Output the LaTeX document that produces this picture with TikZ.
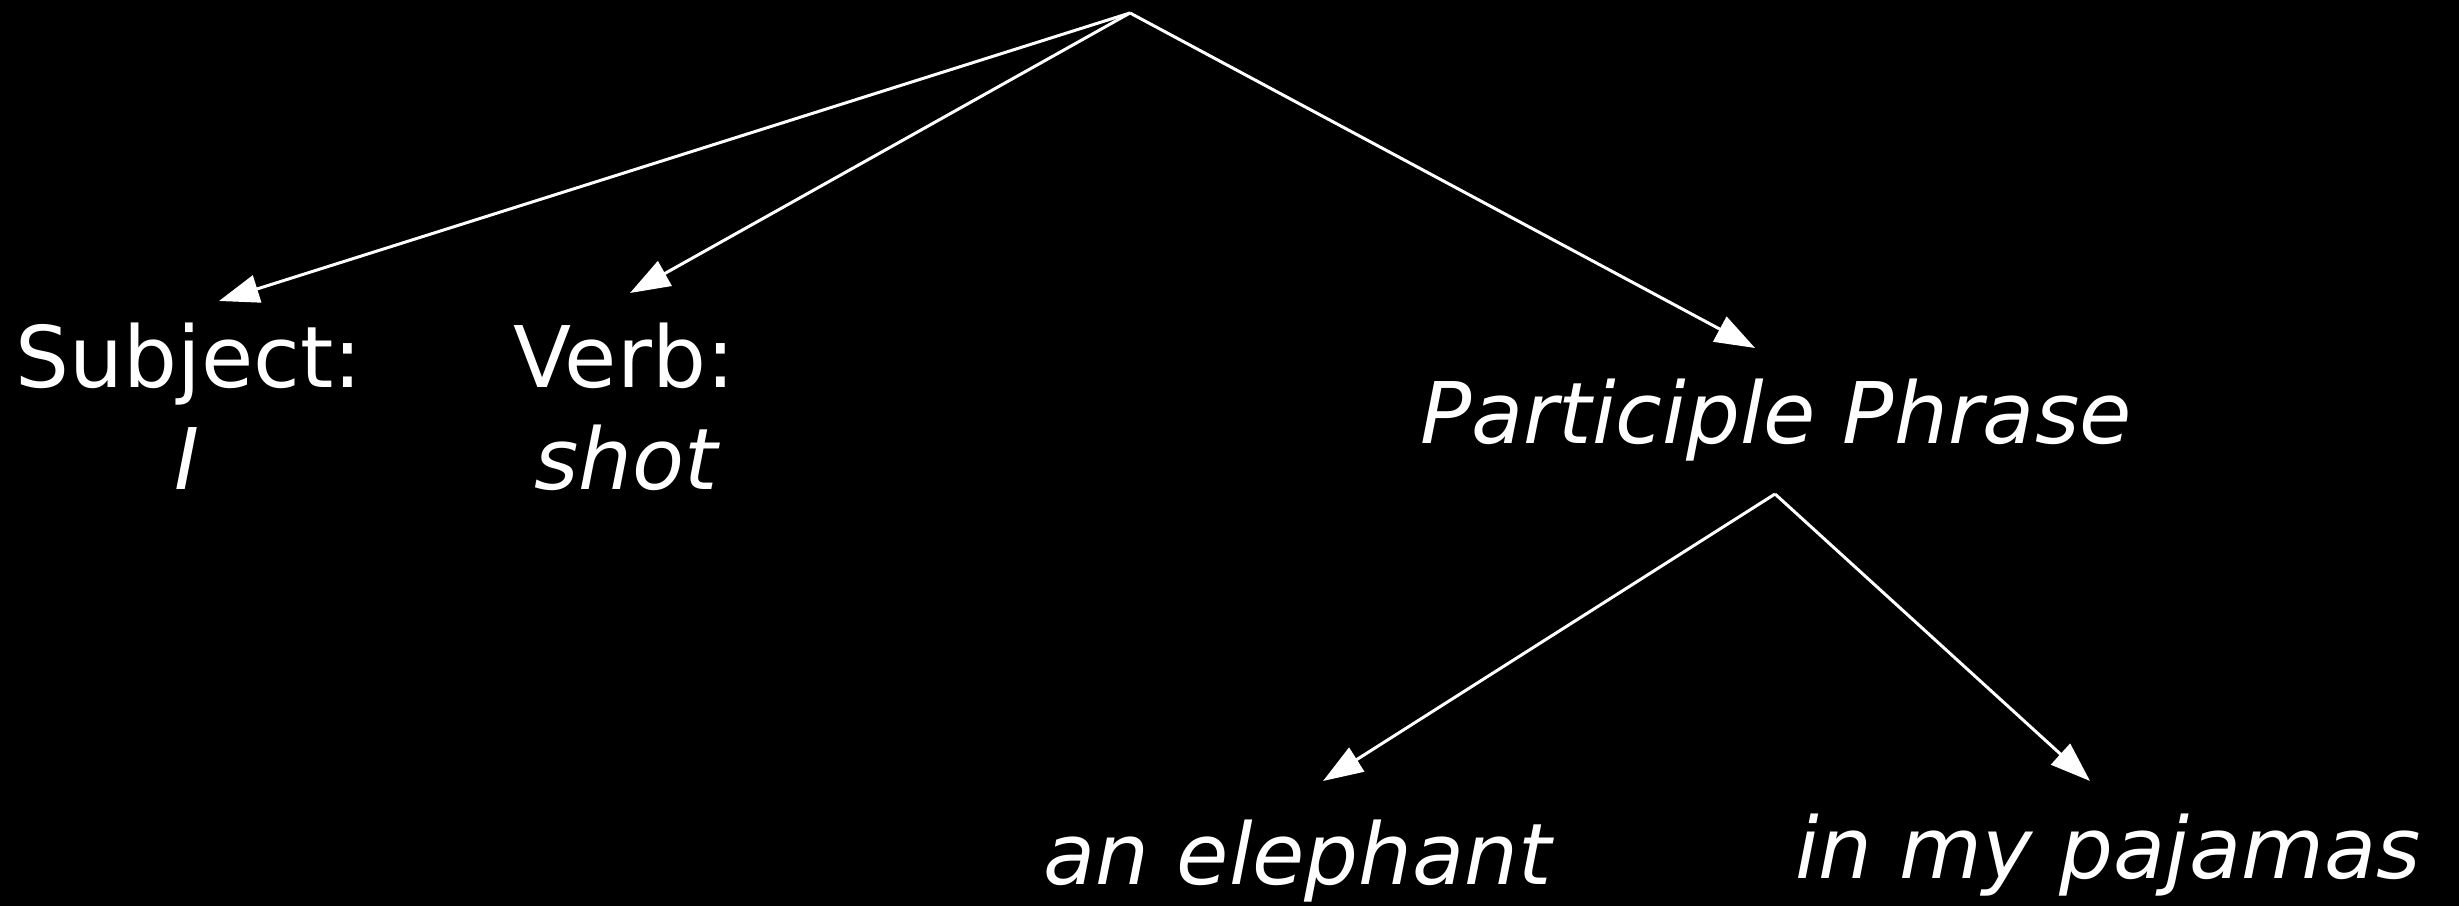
\documentclass[tikz,border=0pt]{standalone}
\usepackage{fontspec}
\setmainfont{DejaVu Sans}
\usetikzlibrary{arrows.meta}
\begin{document}
\begin{tikzpicture}[x=0.25pt,y=-0.25pt,
  lbl/.style={text=white,inner sep=0pt,anchor=base,font=\fontsize{21.25pt}{25.5pt}\selectfont},
  ilbl/.style={lbl,font=\fontsize{21.25pt}{25.5pt}\selectfont\itshape},
  edge/.style={draw=white,line width=0.75pt,-{Triangle[length=10pt,width=7pt]}}]
\fill[black] (0,0) rectangle (2459,906);
\useasboundingbox (0,0) rectangle (2459,906);
% nodes
\coordinate (root) at (1130,13);
\node[lbl] (subj) at (189,388) {Subject:};
\node[ilbl] (subjI) at (187,490) {I};
\node[lbl] (verb) at (624,388) {Verb:};
\node[ilbl] (verbShot) at (626,490) {shot};
\node[ilbl] (part) at (1776,444) {Participle Phrase};
\node[ilbl] (eleph) at (1298,885) {an elephant};
\node[ilbl] (paj) at (2108,878) {in my pajamas};
% edge end points
\coordinate (subjIn) at (219,301);
\coordinate (verbIn) at (630,293);
\coordinate (partIn) at (1755,348);
\coordinate (partOut) at (1775,494);
\coordinate (elephIn) at (1323,781);
\coordinate (pajIn) at (2090,781);
% edges
\draw[edge] (root) -- (subjIn);
\draw[edge] (root) -- (verbIn);
\draw[edge] (root) -- (partIn);
\draw[edge] (partOut) -- (elephIn);
\draw[edge] (partOut) -- (pajIn);
\end{tikzpicture}
\end{document}
